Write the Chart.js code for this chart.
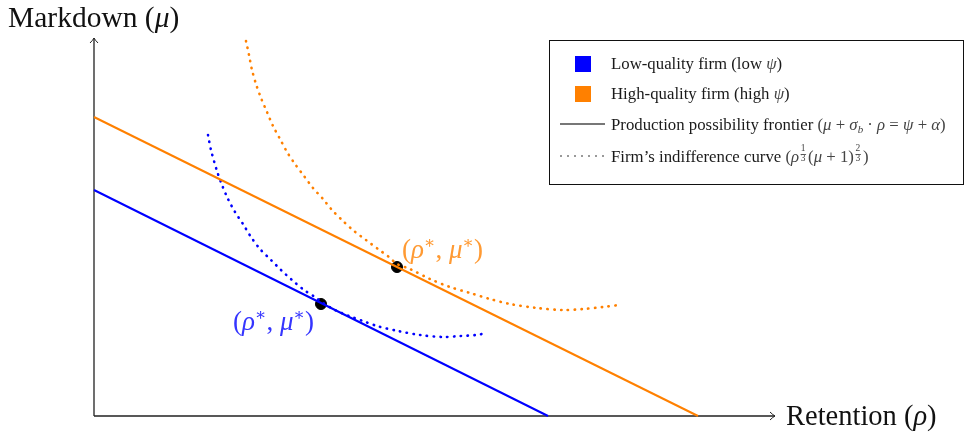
<!DOCTYPE html>
<html>
<head>
<meta charset="utf-8">
<script src="https://cdn.jsdelivr.net/npm/chart.js@4.4.0/dist/chart.umd.min.js"></script>
<style>
html, body { margin: 0; padding: 0; background: #fff; }
#wrap { width: 966px; height: 434px; }
</style>
</head>
<body>
<div id="wrap"><canvas id="c" width="966" height="434"></canvas></div>
<script>
// production possibility frontiers (retention rho, markdown mu)
var lowFrontierRho = [0, 4.54];
var lowFrontierMu = [2.26, 0];
var highFrontierRho = [0, 6.04];
var highFrontierMu = [2.99, 0];

// indifference curves
var lowCurveRho = [1.14, 1.17, 1.23, 1.28, 1.34, 1.41, 1.49, 1.57, 1.66, 1.77, 1.87, 1.98, 2.10, 2.21, 2.29, 2.41, 2.55, 2.69, 2.83, 3.04, 3.26, 3.49, 3.66, 3.82, 3.93];
var lowCurveMu = [2.81, 2.66, 2.45, 2.31, 2.17, 2.04, 1.92, 1.79, 1.67, 1.56, 1.46, 1.36, 1.26, 1.19, 1.13, 1.06, 1.00, 0.95, 0.90, 0.85, 0.81, 0.79, 0.80, 0.81, 0.83];
var highCurveRho = [1.52, 1.55, 1.58, 1.62, 1.67, 1.73, 1.79, 1.86, 1.93, 2.01, 2.10, 2.19, 2.29, 2.38, 2.49, 2.60, 2.72, 2.84, 2.95, 3.03, 3.16, 3.36, 3.56, 3.76, 3.96, 4.16, 4.43, 4.69, 4.89, 5.09, 5.25];
var highCurveMu = [3.75, 3.61, 3.46, 3.32, 3.18, 3.04, 2.90, 2.77, 2.64, 2.52, 2.40, 2.28, 2.17, 2.06, 1.95, 1.85, 1.76, 1.67, 1.59, 1.52, 1.47, 1.37, 1.29, 1.23, 1.17, 1.12, 1.08, 1.06, 1.07, 1.09, 1.11];

// optimum (rho*, mu*) for each firm: [low, high]
var optimumRho = [2.27, 3.03];
var optimumMu = [1.12, 1.49];

// axis extent (arrow tips)
var axisMaxRho = 6.81;
var axisMaxMu = 3.78;

var BLUE = '#0000ff';
var ORANGE = '#ff8000';

function pts(xs, ys) {
    return xs.map(function (x, i) { return { x: x, y: ys[i] }; });
}

var serif = '"Liberation Serif", "DejaVu Serif", serif';

// draw a run of text pieces from left to right
function runs(ctx, x, y, parts) {
    parts.forEach(function (p) {
        if (p.frac) {
            ctx.font = '9.5px ' + serif;
            ctx.textAlign = 'center';
            ctx.fillText(p.frac[0], x + 4, y - 11);
            ctx.fillText(p.frac[1], x + 4, y - 1);
            ctx.fillRect(x + 1.5, y - 8, 5.5, 0.8);
            ctx.textAlign = 'left';
            x += 9;
            return;
        }
        ctx.font = p.f || ('16.8px ' + serif);
        ctx.fillStyle = p.c || '#1a1a1a';
        ctx.fillText(p.t, x, y + (p.dy || 0));
        x += ctx.measureText(p.t).width;
    });
    return x;
}

function arrowHead(ctx, x, y, dir) {
    ctx.beginPath();
    if (dir === 'right') {
        ctx.moveTo(x - 5, y - 4); ctx.quadraticCurveTo(x - 2, y - 1, x, y);
        ctx.quadraticCurveTo(x - 2, y + 1, x - 5, y + 4);
    } else {
        ctx.moveTo(x - 4, y + 5); ctx.quadraticCurveTo(x - 1, y + 2, x, y);
        ctx.quadraticCurveTo(x + 1, y + 2, x + 4, y + 5);
    }
    ctx.stroke();
}

var decor = {
    id: 'decor',
    beforeDatasetsDraw: function (chart) {
        var ctx = chart.ctx, sx = chart.scales.x, sy = chart.scales.y;
        var x0 = sx.getPixelForValue(0), y0 = sy.getPixelForValue(0);
        var xe = sx.getPixelForValue(axisMaxRho), ye = sy.getPixelForValue(axisMaxMu);
        ctx.save();
        ctx.strokeStyle = '#222';
        ctx.lineWidth = 1.3;
        ctx.beginPath();
        ctx.moveTo(x0, y0); ctx.lineTo(xe, y0);
        ctx.moveTo(x0, y0); ctx.lineTo(x0, ye);
        ctx.stroke();
        ctx.lineWidth = 1;
        arrowHead(ctx, xe, y0, 'right');
        arrowHead(ctx, x0, ye, 'up');

        ctx.textBaseline = 'alphabetic';
        var big = '28.5px ' + serif, bigI = 'italic 28.5px ' + serif;
        runs(ctx, xe + 11, y0 + 9, [
            { t: 'Retention (', f: big, c: '#111' },
            { t: 'ρ', f: bigI, c: '#111' },
            { t: ')', f: big, c: '#111' }
        ]);
        runs(ctx, 8, 27, [
            { t: 'Markdown (', f: '29.5px ' + serif, c: '#111' },
            { t: 'μ', f: 'italic 29.5px ' + serif, c: '#111' },
            { t: ')', f: '29.5px ' + serif, c: '#111' }
        ]);
        ctx.restore();
    },
    afterDatasetsDraw: function (chart) {
        var ctx = chart.ctx, sx = chart.scales.x, sy = chart.scales.y;
        ctx.save();
        // optimum labels
        var cols = ['#3535ff', '#ff9a33'];
        var off = [[-88, 26], [5, -9]];
        optimumRho.forEach(function (r, i) {
            var px = sx.getPixelForValue(r) + off[i][0];
            var py = sy.getPixelForValue(optimumMu[i]) + off[i][1];
            var f = '27px ' + serif, fi = 'italic 27px ' + serif, fs = '17px ' + serif;
            runs(ctx, px, py, [
                { t: '(', f: f, c: cols[i] },
                { t: 'ρ', f: fi, c: cols[i] },
                { t: '∗', f: fs, c: cols[i], dy: -10 },
                { t: ', ', f: f, c: cols[i] },
                { t: 'μ', f: fi, c: cols[i] },
                { t: '∗', f: fs, c: cols[i], dy: -10 },
                { t: ')', f: f, c: cols[i] }
            ]);
        });

        // legend box
        ctx.fillStyle = '#fff';
        ctx.fillRect(549, 40, 414, 144);
        ctx.strokeStyle = '#111';
        ctx.lineWidth = 1;
        ctx.strokeRect(549.5, 40.5, 414, 144);
        ctx.fillStyle = BLUE;
        ctx.fillRect(575, 56, 16, 16);
        ctx.fillStyle = ORANGE;
        ctx.fillRect(575, 86, 16, 16);
        ctx.strokeStyle = '#777';
        ctx.lineWidth = 2;
        ctx.beginPath(); ctx.moveTo(560, 124); ctx.lineTo(605, 124); ctx.stroke();
        ctx.fillStyle = '#777';
        for (var d = 561; d < 605; d += 7) {
            ctx.beginPath(); ctx.arc(d, 156, 1, 0, Math.PI * 2); ctx.fill();
        }
        var n = '16.8px ' + serif, it = 'italic 16.8px ' + serif, m = '#444';
        runs(ctx, 611, 69, [
            { t: 'Low-quality firm (low ', f: n },
            { t: 'ψ', f: it, c: m },
            { t: ')', f: n }
        ]);
        runs(ctx, 611, 99, [
            { t: 'High-quality firm (high ', f: n },
            { t: 'ψ', f: it, c: m },
            { t: ')', f: n }
        ]);
        runs(ctx, 611, 130, [
            { t: 'Production possibility frontier ', f: n },
            { t: '(', f: n, c: m }, { t: 'μ', f: it, c: m }, { t: ' + ', f: n, c: m },
            { t: 'σ', f: it, c: m }, { t: 'b', f: 'italic 11px ' + serif, c: m, dy: 3 },
            { t: ' · ', f: n, c: m }, { t: 'ρ', f: it, c: m }, { t: ' = ', f: n, c: m },
            { t: 'ψ', f: it, c: m }, { t: ' + ', f: n, c: m }, { t: 'α', f: it, c: m },
            { t: ')', f: n, c: m }
        ]);
        var xr = runs(ctx, 611, 162, [
            { t: 'Firm’s indifference curve ', f: n },
            { t: '(', f: n, c: m }, { t: 'ρ', f: it, c: m }
        ]);
        ctx.fillStyle = m;
        xr = runs(ctx, xr, 162, [{ frac: ['1', '3'] }]);
        xr = runs(ctx, xr, 162, [
            { t: '(', f: n, c: m }, { t: 'μ', f: it, c: m }, { t: ' + 1)', f: n, c: m }
        ]);
        ctx.fillStyle = m;
        xr = runs(ctx, xr, 162, [{ frac: ['2', '3'] }]);
        runs(ctx, xr, 162, [{ t: ')', f: n, c: m }]);
        ctx.restore();
    }
};

var dotted = { borderWidth: 2.6, borderDash: [0.4, 6.4], borderCapStyle: 'round', pointRadius: 0, showLine: true, fill: false, tension: 0.3 };

new Chart(document.getElementById('c'), {
    type: 'scatter',
    data: {
        datasets: [
            { label: 'Low-quality firm (low ψ)', data: pts(lowFrontierRho, lowFrontierMu), borderColor: BLUE, borderWidth: 2, pointRadius: 0, showLine: true },
            { label: 'High-quality firm (high ψ)', data: pts(highFrontierRho, highFrontierMu), borderColor: ORANGE, borderWidth: 2, pointRadius: 0, showLine: true },
            Object.assign({ label: 'Low indifference', data: pts(lowCurveRho, lowCurveMu), borderColor: BLUE }, dotted),
            Object.assign({ label: 'High indifference', data: pts(highCurveRho, highCurveMu), borderColor: ORANGE }, dotted),
            { label: 'Optimum', data: pts(optimumRho, optimumMu), backgroundColor: '#000', borderColor: '#000', pointRadius: 5.5, showLine: false }
        ]
    },
    options: {
        responsive: false,
        animation: false,
        devicePixelRatio: 1,
        layout: { padding: { left: 94, right: 72, top: 16, bottom: 18 } },
        clip: false,
        scales: {
            x: { type: 'linear', min: 0, max: 8, display: false },
            y: { type: 'linear', min: 0, max: 4, display: false }
        },
        plugins: { legend: { display: false }, tooltip: { enabled: false } }
    },
    plugins: [decor]
});
</script>
</body>
</html>
